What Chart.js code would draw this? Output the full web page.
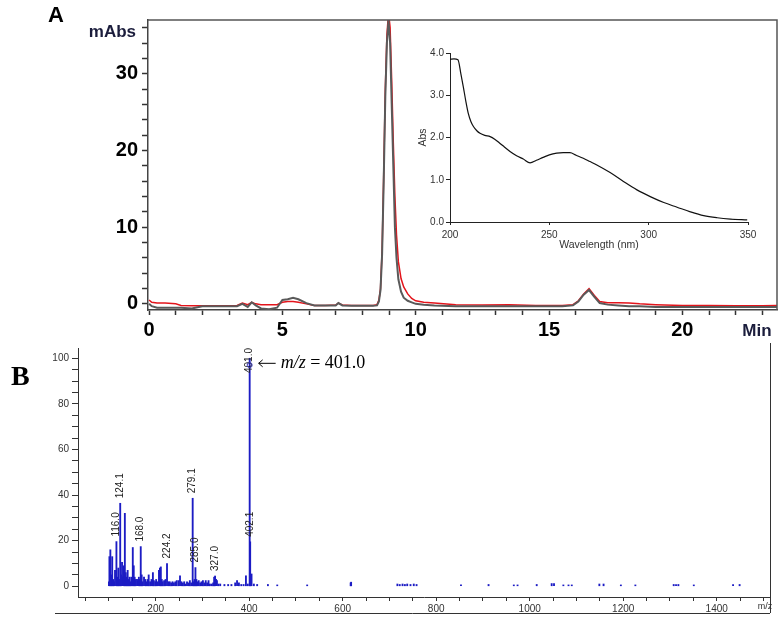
<!DOCTYPE html>
<html>
<head>
<meta charset="utf-8">
<script src="https://cdn.jsdelivr.net/npm/chart.js@4.4.0/dist/chart.umd.min.js"></script>
<style>
  body { margin: 0; background: #fff; }
  #wrap { position: relative; width: 782px; height: 619px; overflow: hidden; background: #fff; }
  canvas { position: absolute; }
  #chromA { left: 0; top: 0; }
  #uvInset { left: 400px; top: 40px; }
  #msB { left: 0; top: 335px; }
</style>
</head>
<body>
<div id="wrap">
  <canvas id="chromA" width="782" height="340"></canvas>
  <canvas id="msB" width="782" height="284"></canvas>
  <canvas id="uvInset" width="365" height="215"></canvas>
</div>
<script>
// ---- panel A : chromatogram (min / mAbs) ----
var timeA = [0, 0.1, 0.3, 0.6, 1.0, 1.2, 1.6, 2.0, 2.5, 3.0, 3.3, 3.5, 3.7, 3.85, 4.0, 4.2, 4.5, 4.8,
  5.0, 5.2, 5.4, 5.6, 5.9, 6.2, 6.6, 7.0, 7.1, 7.25, 7.6, 8.0, 8.4, 8.55, 8.62, 8.68, 8.74, 8.8,
  8.86, 8.92, 8.98, 9.04, 9.1, 9.16, 9.22, 9.28, 9.35, 9.45, 9.55, 9.7, 9.85, 10.0, 10.3, 10.7,
  11.5, 12.5, 13.5, 14.5, 15.5, 15.9, 16.1, 16.3, 16.5, 16.7, 16.9, 17.2, 17.6, 18.0, 18.4, 19.0,
  20.0, 21.0, 22.0, 23.0, 23.6];
var redA = [0.5, 0.2, 0.1, 0.1, 0.0, -0.2, -0.25, -0.25, -0.25, -0.25, -0.2, 0.1, -0.1, 0.2, 0.0, -0.1, -0.1, -0.1,
  0.2, 0.3, 0.3, 0.2, 0.0, -0.2, -0.2, -0.15, 0.1, -0.15, -0.2, -0.2, -0.2, -0.1, 0.5, 2, 7, 17,
  28, 35, 38, 36, 29, 21, 14, 9, 5.5, 3.3, 2.2, 1.3, 0.7, 0.4, 0.2, 0.1,
  -0.1, -0.15, -0.1, -0.2, -0.2, -0.1, 0.4, 1.3, 2.0, 1.1, 0.3, 0.15, 0.15, 0.1, 0.0, -0.1,
  -0.2, -0.2, -0.25, -0.25, -0.2];
var grayA = [0.0, -0.3, -0.5, -0.5, -0.5, -0.5, -0.6, -0.3, -0.3, -0.3, -0.3, 0.0, -0.4, 0.2, -0.2, -0.6, -0.7, -0.5,
  0.5, 0.6, 0.8, 0.6, 0.1, -0.2, -0.2, -0.2, 0.1, -0.2, -0.25, -0.25, -0.25, -0.2, 0.3, 1.8, 6.5, 16,
  27, 34, 37, 34, 26, 18, 10, 6, 3.2, 1.6, 0.8, 0.4, 0.2, 0.0, -0.1, -0.2,
  -0.3, -0.3, -0.3, -0.3, -0.3, -0.2, 0.3, 1.2, 1.8, 0.9, 0.1, -0.1, -0.2, -0.3, -0.3, -0.4,
  -0.4, -0.4, -0.4, -0.4, -0.4];
var xTicksA = [0,1,2,3,4,5,6,7,8,9,10,11,12,13,14,15,16,17,18,19,20,21,22,23];
var xLabelsA = [0, 5, 10, 15, 20];
var yTicksA = [0,2,4,6,8,10,12,14,16,18,20,22,24,26,28,30,32,34,36];
var yLabelsA = [0, 10, 20, 30];

// ---- inset : UV spectrum ----
var wlInset = [200, 202, 204, 205.5, 206.7, 208, 209.2, 210.5, 211.8, 213.5, 215.1, 217.5, 220.2, 222.5,
  225.2, 227.5, 230.2, 233.5, 236.9, 240.3, 243.5, 246.9, 250, 253.7, 257, 260.4, 263.5, 267.1, 270.5,
  273.9, 280.6, 287.3, 294.1, 300.8, 307.6, 314.3, 321, 327.7, 334.5, 341.2, 349.6];
var absInset = [3.85, 3.86, 3.84, 3.5, 3.2, 2.85, 2.57, 2.38, 2.26, 2.16, 2.1, 2.05, 2.02, 1.96,
  1.86, 1.77, 1.67, 1.57, 1.49, 1.4, 1.46, 1.53, 1.59, 1.63, 1.64, 1.64, 1.58, 1.51, 1.43,
  1.35, 1.17, 0.96, 0.76, 0.6, 0.46, 0.35, 0.24, 0.15, 0.1, 0.07, 0.05];
var xTicksInset = [200, 250, 300, 350];
var yTicksInset = [0, 1, 2, 3, 4];

// ---- panel B : mass spectrum ----
var mzB = [100, 101, 103, 105, 107, 109, 111, 113, 116.0, 118, 120, 122, 124.1, 126, 128, 130, 132, 134, 136, 138,
  140, 142, 144, 146, 148, 151, 153, 155, 157, 160, 162, 164, 166, 168.0, 170, 172, 175, 178, 180, 183,
  185, 188, 191, 194, 196, 199, 201, 204, 207, 209, 211, 213, 215, 218, 221, 224.2, 227, 230, 233, 236,
  239, 242, 245, 249, 252, 255, 258, 261, 264, 267, 270, 273, 276, 279.1, 281, 283, 285.0, 287, 289, 292,
  295, 298, 301, 304, 307, 310, 313, 316, 320, 323, 325, 327.0, 329, 331, 334, 338, 347, 355, 362, 370,
  374, 378, 383, 388, 393, 397, 401.0, 402.1, 405, 410, 417, 440, 460, 524, 617, 618, 717, 722, 728, 733,
  738, 745, 752, 758, 853, 912, 966, 974, 1015, 1047, 1052, 1072, 1083, 1090, 1149, 1158, 1195, 1226,
  1308, 1313, 1318, 1351, 1435, 1449];
var intB = [2, 13, 16, 5, 13, 3, 2, 7, 19.6, 4, 8, 3, 36.4, 5, 10.5, 4, 9, 32, 6, 4,
  7, 3, 4, 2, 4, 17, 9, 4, 3, 3, 2.5, 4, 3, 17.4, 5, 2, 4, 3, 2, 3,
  5, 2, 3, 6, 2.5, 2, 3, 2, 7, 8, 8.5, 3, 2, 2.5, 3, 10, 2, 2, 1.5, 2,
  1.5, 2, 2.5, 2.5, 4.6, 2, 1.5, 2, 1, 2, 1.5, 2.5, 1.5, 38.6, 2, 3, 8.2, 3, 2, 2.5,
  1.5, 2, 2.5, 1.5, 2.5, 1.5, 2.5, 1, 1, 1.5, 4, 4.5, 3, 2.5, 1, 1, 0.8, 0.8, 0.8, 1.5,
  2.5, 1.5, 0.8, 0.8, 4.6, 1, 100, 19.5, 5.4, 1, 0.8, 0.8, 0.6, 0.6, 1.5, 1.8, 1, 0.8, 1, 0.8,
  1, 0.8, 1, 0.8, 0.6, 0.8, 0.6, 0.6, 0.8, 1.2, 1.2, 0.6, 0.6, 0.6, 1, 1, 0.6, 0.6,
  0.8, 0.8, 0.8, 0.6, 0.8, 0.8];
var labelMzB = [116.0, 124.1, 168.0, 224.2, 279.1, 285.0, 327.0, 401.0, 402.1];
var xTicksB = [];
for (var k = 50; k <= 1500; k += 50) xTicksB.push(k);
var xLabelsB = [200, 400, 600, 800, 1000, 1200, 1400];
var yTicksB = [0,5,10,15,20,25,30,35,40,45,50,55,60,65,70,75,80,85,90,95,100];
var yLabelsB = [0, 20, 40, 60, 80, 100];

var SANS = '"Liberation Sans", Arial, sans-serif';
var SERIF = '"Liberation Serif", "Times New Roman", serif';

function pts(xs, ys) {
  var out = [];
  for (var i = 0; i < xs.length; i++) out.push({x: xs[i], y: ys[i]});
  return out;
}
function setTicks(list) {
  return function(scale) { scale.ticks = list.map(function(v) { return {value: v}; }); };
}

// frame + loose texts of panel A
var frameA = {
  id: 'frameA',
  afterDraw: function(chart) {
    var ctx = chart.ctx, a = chart.chartArea;
    ctx.save();
    ctx.strokeStyle = '#555';
    ctx.lineWidth = 1.5;
    ctx.beginPath();
    ctx.moveTo(a.left, a.top);
    ctx.lineTo(a.right, a.top);
    ctx.lineTo(a.right, a.bottom);
    ctx.stroke();
    ctx.fillStyle = '#000';
    ctx.font = 'bold 22px ' + SANS;
    ctx.textAlign = 'left';
    ctx.textBaseline = 'alphabetic';
    ctx.fillText('A', 48, 22);
    ctx.fillStyle = '#1b1d3c';
    ctx.font = 'bold 17px ' + SANS;
    ctx.textAlign = 'right';
    ctx.textBaseline = 'middle';
    ctx.fillText('mAbs', a.left - 12, 32);
    ctx.textAlign = 'center';
    ctx.fillText('Min', 757, 331);
    ctx.restore();
  }
};

new Chart(document.getElementById('chromA'), {
  type: 'line',
  data: {
    datasets: [
      { data: pts(timeA, grayA), borderColor: '#5a5a5a', borderWidth: 2, pointRadius: 0, tension: 0 },
      { data: pts(timeA, redA), borderColor: '#e3141b', borderWidth: 1.5, pointRadius: 0, tension: 0 }
    ]
  },
  options: {
    responsive: false,
    animation: false,
    layout: { padding: { top: 20, right: 5, left: 0, bottom: 0 } },
    plugins: { legend: { display: false }, tooltip: { enabled: false } },
    scales: {
      x: {
        type: 'linear', min: -0.04, max: 23.55,
        afterBuildTicks: setTicks(xTicksA),
        afterFit: function(s) { s.height = 30; },
        ticks: {
          autoSkip: false, maxRotation: 0, padding: 3, color: '#000',
          font: { family: SANS, size: 20, weight: 'bold' },
          callback: function(v) { return xLabelsA.indexOf(v) >= 0 ? String(v) : ''; }
        },
        grid: { drawOnChartArea: false, tickLength: 5, tickColor: '#333', tickWidth: 1.5 },
        border: { color: '#444', width: 1.5 }
      },
      y: {
        min: -0.8, max: 37,
        afterBuildTicks: setTicks(yTicksA),
        afterFit: function(s) { s.width = 148; },
        ticks: {
          autoSkip: false, padding: 4, color: '#000',
          font: { family: SANS, size: 20, weight: 'bold' },
          callback: function(v) { return yLabelsA.indexOf(v) >= 0 ? String(v) : ''; }
        },
        grid: { drawOnChartArea: false, tickLength: 6, tickColor: '#333', tickWidth: 1.5 },
        border: { color: '#444', width: 1.5 }
      }
    }
  },
  plugins: [frameA]
});

// inset UV spectrum
new Chart(document.getElementById('uvInset'), {
  type: 'line',
  data: {
    datasets: [
      { data: pts(wlInset, absInset), borderColor: '#111', borderWidth: 1.2, pointRadius: 0,
        tension: 0.4, cubicInterpolationMode: 'monotone' }
    ]
  },
  options: {
    responsive: false,
    animation: false,
    layout: { padding: { top: 13, right: 17, left: 13, bottom: 0 } },
    plugins: { legend: { display: false }, tooltip: { enabled: false } },
    scales: {
      x: {
        type: 'linear', min: 200, max: 350,
        afterBuildTicks: setTicks(xTicksInset),
        afterFit: function(s) { s.height = 33; },
        title: { display: true, text: 'Wavelength (nm)', color: '#333', font: { family: SANS, size: 10.5 } },
        ticks: { autoSkip: false, maxRotation: 0, padding: 4, color: '#333', font: { family: SANS, size: 10 } },
        grid: { drawOnChartArea: false, tickLength: 3, tickColor: '#222' },
        border: { color: '#222', width: 1 }
      },
      y: {
        min: 0, max: 4,
        afterBuildTicks: setTicks(yTicksInset),
        afterFit: function(s) { s.width = 37; },
        title: { display: true, text: 'Abs', color: '#333', font: { family: SANS, size: 10.5 } },
        ticks: {
          autoSkip: false, padding: 2, color: '#333', font: { family: SANS, size: 10 },
          callback: function(v) { return v.toFixed(1); }
        },
        grid: { drawOnChartArea: false, tickLength: 4, tickColor: '#222' },
        border: { color: '#222', width: 1 }
      }
    }
  }
});

// labels, arrow note and frame of panel B
var msDecor = {
  id: 'msDecor',
  afterDraw: function(chart) {
    var ctx = chart.ctx, a = chart.chartArea;
    var xs = chart.scales.x, ys = chart.scales.y;
    ctx.save();
    ctx.font = '10px ' + SANS;
    ctx.fillStyle = '#222';
    ctx.textAlign = 'left';
    ctx.textBaseline = 'middle';
    labelMzB.forEach(function(mz) {
      var i = mzB.indexOf(mz);
      var txt = mz.toFixed(1);
      var w = ctx.measureText(txt).width;
      var x = xs.getPixelForValue(mz);
      var y = ys.getPixelForValue(intB[i]) - 5;
      if (y - w < a.top) y = a.top + w;
      ctx.save();
      ctx.translate(x, y);
      ctx.rotate(-Math.PI / 2);
      ctx.fillText(txt, 0, 0);
      ctx.restore();
    });

    // little marker on top of the base peak
    var px = xs.getPixelForValue(401);
    var py = ys.getPixelForValue(97);
    ctx.strokeStyle = '#3a3ab0';
    ctx.lineWidth = 1;
    ctx.beginPath();
    ctx.arc(px, py, 2.5, 0, Math.PI * 2);
    ctx.stroke();

    // arrow note for the base peak
    var nx = px + 9;
    var ny = ys.getPixelForValue(98);
    ctx.strokeStyle = '#000';
    ctx.beginPath();
    ctx.moveTo(nx, ny + 0.5);
    ctx.lineTo(nx + 17, ny + 0.5);
    ctx.moveTo(nx + 4, ny - 3);
    ctx.lineTo(nx, ny + 0.5);
    ctx.lineTo(nx + 4, ny + 4);
    ctx.stroke();
    nx += 22;
    ctx.fillStyle = '#000';
    ctx.textBaseline = 'middle';
    ctx.font = 'italic 18px ' + SERIF;
    ctx.fillText('m/z', nx, ny);
    nx += ctx.measureText('m/z').width;
    ctx.font = '18px ' + SERIF;
    ctx.fillText(' = 401.0', nx, ny);

    // panel letter
    ctx.font = 'bold 28px ' + SERIF;
    ctx.textBaseline = 'alphabetic';
    ctx.fillText('B', 11, 50);

    // right edge and bottom rule
    ctx.strokeStyle = '#333';
    ctx.lineWidth = 1;
    ctx.beginPath();
    ctx.moveTo(a.right + 0.5, 8);
    ctx.lineTo(a.right + 0.5, 278);
    ctx.moveTo(55, 278.5);
    ctx.lineTo(a.right, 278.5);
    ctx.stroke();
    ctx.font = '9px ' + SANS;
    ctx.fillStyle = '#333';
    ctx.textAlign = 'center';
    ctx.textBaseline = 'middle';
    ctx.fillText('m/z', 765, 272);
    ctx.restore();
  }
};

new Chart(document.getElementById('msB'), {
  type: 'bar',
  data: {
    datasets: [
      { data: pts(mzB, intB), backgroundColor: '#1c1cc4', borderWidth: 0, barThickness: 1.2, grouped: false }
    ]
  },
  options: {
    responsive: false,
    animation: false,
    layout: { padding: { top: 13, right: 12, left: 0, bottom: 0 } },
    plugins: { legend: { display: false }, tooltip: { enabled: false } },
    scales: {
      x: {
        type: 'linear', min: 33.8, max: 1514, offset: false,
        afterBuildTicks: setTicks(xTicksB),
        afterFit: function(s) { s.height = 22; },
        ticks: {
          autoSkip: false, maxRotation: 0, padding: 2, color: '#333', font: { family: SANS, size: 10 },
          callback: function(v) { return xLabelsB.indexOf(v) >= 0 ? String(v) : ''; }
        },
        grid: { offset: false, drawOnChartArea: false, tickLength: 4, tickColor: '#333' },
        border: { color: '#333', width: 1 }
      },
      y: {
        min: -4.7, max: 104.5,
        afterBuildTicks: setTicks(yTicksB),
        afterFit: function(s) { s.width = 78; },
        ticks: {
          autoSkip: false, padding: 3, color: '#333', font: { family: SANS, size: 10 },
          callback: function(v) { return yLabelsB.indexOf(v) >= 0 ? String(v) : ''; }
        },
        grid: { drawOnChartArea: false, tickLength: 6, tickColor: '#333' },
        border: { color: '#333', width: 1 }
      }
    }
  },
  plugins: [msDecor]
});
</script>
</body>
</html>
